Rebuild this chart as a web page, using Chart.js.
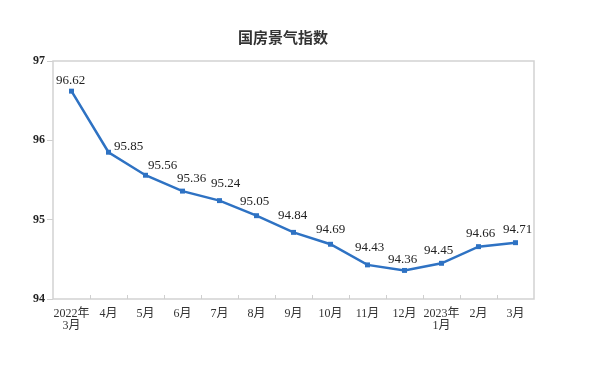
<!DOCTYPE html>
<html>
<head>
<meta charset="utf-8">
<title>国房景气指数</title>
<script src="https://cdn.jsdelivr.net/npm/chart.js"></script>
<style>
  body { margin: 0; background: #fff; }
</style>
</head>
<body>
<canvas id="chart" width="589" height="366"></canvas>
<script>
const months = [["2022年", "3月"], "4月", "5月", "6月", "7月", "8月", "9月", "10月", "11月", "12月", ["2023年", "1月"], "2月", "3月"];
const indexValues = [96.62, 95.85, 95.56, 95.36, 95.24, 95.05, 94.84, 94.69, 94.43, 94.36, 94.45, 94.66, 94.71];
const yMin = 94;
const yMax = 97;

// nudges for the value labels, in px from the point
const labelDx = [-1, 20, 17, 9, 6, -2, -1, 0, 2, -2, -3, 2, 2];
const labelDy = [-11, -6, -10, -13, -17, -14, -17, -15, -17, -11, -13, -13, -13];

const serif = "'Liberation Serif', 'Noto Sans CJK SC', serif";
const lineColor = "#2e72c3";

const framePlugin = {
  id: "frame",
  beforeDatasetsDraw(chart) {
    const { ctx, chartArea: a } = chart;
    const x = chart.scales.x;
    ctx.save();
    ctx.strokeStyle = "#d2d2d2";
    ctx.lineWidth = 1.5;
    ctx.strokeRect(a.left, a.top, a.right - a.left, a.bottom - a.top);
    // small inward ticks between months
    ctx.lineWidth = 1;
    ctx.strokeStyle = "#cfcfcf";
    for (let i = 1; i < months.length; i++) {
      const px = Math.round((x.getPixelForValue(i - 1) + x.getPixelForValue(i)) / 2) + 0.5;
      ctx.beginPath();
      ctx.moveTo(px, a.bottom);
      ctx.lineTo(px, a.bottom - 4);
      ctx.stroke();
    }
    ctx.restore();
  },
  afterDraw(chart) {
    const { ctx } = chart;
    ctx.save();
    ctx.fillStyle = "#333";
    ctx.font = "bold 15px 'Noto Sans CJK SC'";
    ctx.textAlign = "center";
    ctx.textBaseline = "middle";
    ctx.fillText("国房景气指数", 283, 37);
    ctx.restore();
  }
};

const valueLabels = {
  id: "valueLabels",
  afterDatasetsDraw(chart) {
    const { ctx } = chart;
    const meta = chart.getDatasetMeta(0);
    ctx.save();
    ctx.font = "13px " + serif;
    ctx.fillStyle = "#222";
    ctx.textAlign = "center";
    ctx.textBaseline = "middle";
    meta.data.forEach((pt, i) => {
      ctx.fillText(indexValues[i].toFixed(2), pt.x + labelDx[i], pt.y + labelDy[i]);
    });
    ctx.restore();
  }
};

new Chart(document.getElementById("chart"), {
  type: "line",
  data: {
    labels: months,
    datasets: [{
      data: indexValues,
      borderColor: lineColor,
      backgroundColor: lineColor,
      borderWidth: 2.5,
      tension: 0,
      pointStyle: "rect",
      pointRadius: 3.5,
      pointBorderWidth: 0
    }]
  },
  options: {
    responsive: false,
    animation: false,
    layout: { padding: { top: 61, right: 55, left: 0, bottom: 0 } },
    plugins: {
      legend: { display: false },
      tooltip: { enabled: false }
    },
    scales: {
      x: {
        offset: true,
        grid: { display: false, drawTicks: false },
        border: { display: false },
        ticks: {
          autoSkip: false,
          maxRotation: 0,
          padding: 9,
          color: "#333",
          font: { family: serif, size: 12, lineHeight: 1 }
        },
        afterFit(s) { s.height = 67; }
      },
      y: {
        min: yMin,
        max: yMax,
        grid: { drawOnChartArea: false, tickLength: 6, color: "#cfcfcf" },
        border: { display: false },
        ticks: {
          stepSize: 1,
          padding: 2,
          color: "#222",
          font: { family: serif, size: 12, weight: "bold" }
        },
        afterFit(s) { s.width = 53; }
      }
    }
  },
  plugins: [framePlugin, valueLabels]
});
</script>
</body>
</html>
